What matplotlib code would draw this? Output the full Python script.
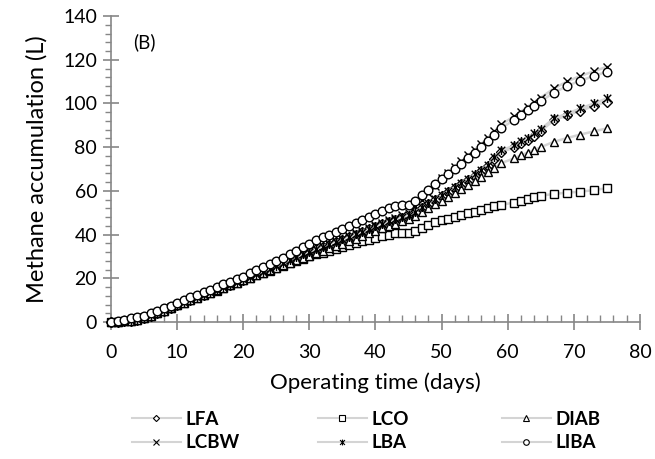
import matplotlib.pyplot as plt
from matplotlib.lines import Line2D
from matplotlib.path import Path
from matplotlib.ticker import MultipleLocator

plt.rcParams['font.family'] = ['Lato', 'DejaVu Sans']

days = list(range(0, 60)) + [61, 62, 63, 64, 65, 67, 69, 71, 73, 75]

lfa = [0, 0.1, 0.3, 0.6, 1.1, 1.9, 2.9, 4.0, 5.2, 6.5,
       7.8, 9.0, 10.2, 11.3, 12.4, 13.5, 14.6, 15.8, 17.0, 18.2,
       19.4, 20.6, 21.8, 23.0, 24.3, 25.6, 26.9, 28.2, 29.5, 30.8,
       32.0, 33.2, 34.3, 35.4, 36.5, 37.6, 38.8, 40.0, 41.2, 42.4,
       43.6, 44.7, 45.7, 46.7, 47.6, 48.5, 50.2, 52.1, 54.0, 55.9,
       57.7, 59.6, 61.4, 63.3, 65.2, 67.0, 69.2, 71.5, 74.6, 77.7,
       79.9, 81.7, 83.5, 85.3, 87.3, 92.4, 94.5, 96.7, 98.8, 100.8]

lco = [0, 0.1, 0.3, 0.6, 1.1, 1.8, 2.8, 3.9, 5.1, 6.4,
       7.7, 8.9, 10.0, 11.1, 12.2, 13.3, 14.4, 15.6, 16.8, 18.0,
       19.1, 20.2, 21.3, 22.4, 23.5, 24.6, 25.7, 26.8, 27.9, 29.0,
       30.0, 30.9, 31.8, 32.7, 33.6, 34.4, 35.2, 36.0, 36.9, 37.7,
       38.5, 39.3, 40.0, 40.5, 40.7, 40.9, 41.8, 43.2, 44.6, 45.6,
       46.5, 47.1, 48.2, 49.0, 49.7, 50.5, 51.2, 52.0, 53.0, 53.7,
       54.6, 55.3, 56.1, 57.2, 57.8, 58.6, 59.2, 59.6, 60.4, 61.2]

diab = [0, 0.1, 0.3, 0.6, 1.1, 1.8, 2.8, 3.9, 5.1, 6.4,
        7.7, 8.9, 10.1, 11.2, 12.3, 13.4, 14.5, 15.6, 16.8, 18.0,
        19.1, 20.2, 21.3, 22.4, 23.6, 24.8, 26.0, 27.1, 28.2, 29.3,
        30.4, 31.5, 32.6, 33.7, 34.8, 35.9, 37.0, 38.1, 39.3, 40.5,
        41.7, 42.8, 43.9, 45.0, 46.0, 47.0, 48.5, 50.2, 52.0, 53.8,
        55.5, 57.2, 59.0, 60.9, 62.8, 64.6, 66.5, 68.5, 70.6, 72.7,
        74.9, 76.3, 77.5, 78.8, 80.0, 82.5, 84.2, 85.8, 87.2, 88.6]

lcbw = [0, 0.1, 0.3, 0.7, 1.3, 2.1, 3.1, 4.2, 5.4, 6.7,
        8.0, 9.2, 10.4, 11.5, 12.6, 13.7, 14.8, 16.0, 17.2, 18.4,
        19.6, 20.8, 22.0, 23.3, 24.6, 25.9, 27.2, 28.5, 29.9, 31.2,
        32.4, 33.6, 34.8, 35.9, 37.0, 38.1, 39.3, 40.5, 41.8, 43.1,
        44.3, 45.5, 46.6, 47.7, 48.8, 50.0, 53.0, 56.0, 59.2, 62.4,
        65.7, 68.3, 70.9, 73.5, 76.2, 78.9, 81.5, 84.3, 87.3, 90.4,
        94.2, 96.3, 98.5, 100.6, 102.7, 106.9, 110.1, 112.6, 114.7, 116.8]

lba = [0, 0.1, 0.3, 0.7, 1.2, 2.0, 3.0, 4.1, 5.3, 6.6,
       7.9, 9.1, 10.3, 11.4, 12.5, 13.6, 14.7, 15.9, 17.1, 18.3,
       19.5, 20.7, 21.9, 23.1, 24.4, 25.7, 27.0, 28.3, 29.7, 31.0,
       32.2, 33.4, 34.5, 35.6, 36.7, 37.8, 38.9, 40.1, 41.3, 42.6,
       43.8, 44.9, 46.0, 47.0, 48.0, 48.8, 50.5, 52.4, 54.3, 56.2,
       58.0, 60.0, 61.8, 63.7, 65.6, 67.5, 69.7, 72.0, 75.3, 78.5,
       80.8, 82.6, 84.4, 86.3, 88.3, 93.2, 95.4, 97.7, 100.0, 102.3]

liba = [0, 0.5, 1.1, 1.7, 2.2, 2.7, 3.9, 5.1, 6.3, 7.5,
        8.8, 10.1, 11.3, 12.5, 13.6, 14.8, 16.0, 17.2, 18.4, 19.6,
        20.8, 22.2, 23.6, 25.0, 26.5, 28.0, 29.5, 31.0, 32.7, 34.4,
        35.9, 37.3, 38.7, 40.0, 41.3, 42.6, 43.9, 45.2, 46.5, 47.9,
        49.5, 51.0, 52.3, 53.2, 53.5, 53.7, 55.5, 58.0, 60.5, 63.0,
        65.3, 67.6, 70.0, 72.4, 75.0, 77.5, 80.0, 82.8, 85.7, 88.7,
        92.5, 94.5, 96.8, 98.8, 101.0, 105.0, 108.0, 110.5, 112.5, 114.5]

# excel style star: an x with a vertical bar through it
star = Path([(-1, -1), (1, 1), (-1, 1), (1, -1), (0, -1.2), (0, 1.2)],
            [Path.MOVETO, Path.LINETO] * 3)

series = [('LFA', lfa, 'D', 4.8), ('LCO', lco, 's', 5.8), ('DIAB', diab, '^', 5.8),
          ('LCBW', lcbw, 'x', 6.2), ('LBA', lba, star, 6.5), ('LIBA', liba, 'o', 6.2)]

fig = plt.figure(figsize=(6.55, 4.59), dpi=100)
ax = fig.add_axes([0.1695, 0.2985, 0.8075, 0.6665])

line_col = '#d4d4d4'
handles = {}
for name, vals, mk, ms in series:
    ax.plot(days, vals, color=line_col, lw=1.8, marker=mk, ms=ms,
            mfc='white', mec='black', mew=1.0, zorder=3, clip_on=False)
    handles[name] = Line2D([], [], color=line_col, lw=1.5, marker=mk, ms=ms * 0.65,
                           mfc='white', mec='black', mew=0.8)

ax.set_xlim(0, 80)
ax.set_ylim(0, 140)
ax.xaxis.set_major_locator(MultipleLocator(10))
ax.xaxis.set_minor_locator(MultipleLocator(2))
ax.yaxis.set_major_locator(MultipleLocator(20))
ax.yaxis.set_minor_locator(MultipleLocator(4))

for s in ['top', 'right']:
    ax.spines[s].set_visible(False)
for s in ['left', 'bottom']:
    ax.spines[s].set_color('#868686')
    ax.spines[s].set_linewidth(1.2)

ax.tick_params(which='major', direction='inout', length=12, width=1.2, color='#868686',
               labelsize=14, pad=4)
ax.tick_params(axis='x', which='minor', direction='in', length=5, width=1, color='#868686')
ax.tick_params(axis='y', which='minor', direction='out', length=4, width=1, color='#868686')
ax.tick_params(axis='x', which='major', pad=10)

ax.set_xlabel('Operating time (days)', fontsize=16, labelpad=8)
ax.set_ylabel('Methane accumulation (L)', fontsize=17, labelpad=11)
ax.text(0.042, 0.895, '(B)', transform=ax.transAxes, fontsize=13.5)

# three legend columns placed at Excel's even column pitch
columns = [['LFA', 'LCBW'], ['LCO', 'LBA'], ['DIAB', 'LIBA']]
col_x = [128, 314, 498]
for names, x in zip(columns, col_x):
    leg = fig.legend([handles[n] for n in names], names, loc='upper left',
                     bbox_to_anchor=(x / 655, 1 - 407 / 459), frameon=False,
                     handlelength=2.6, handletextpad=0.25, labelspacing=0.35,
                     borderpad=0.2, borderaxespad=0,
                     prop={'weight': 'bold', 'size': 13.5})

fig.savefig('out.png', dpi=100)
